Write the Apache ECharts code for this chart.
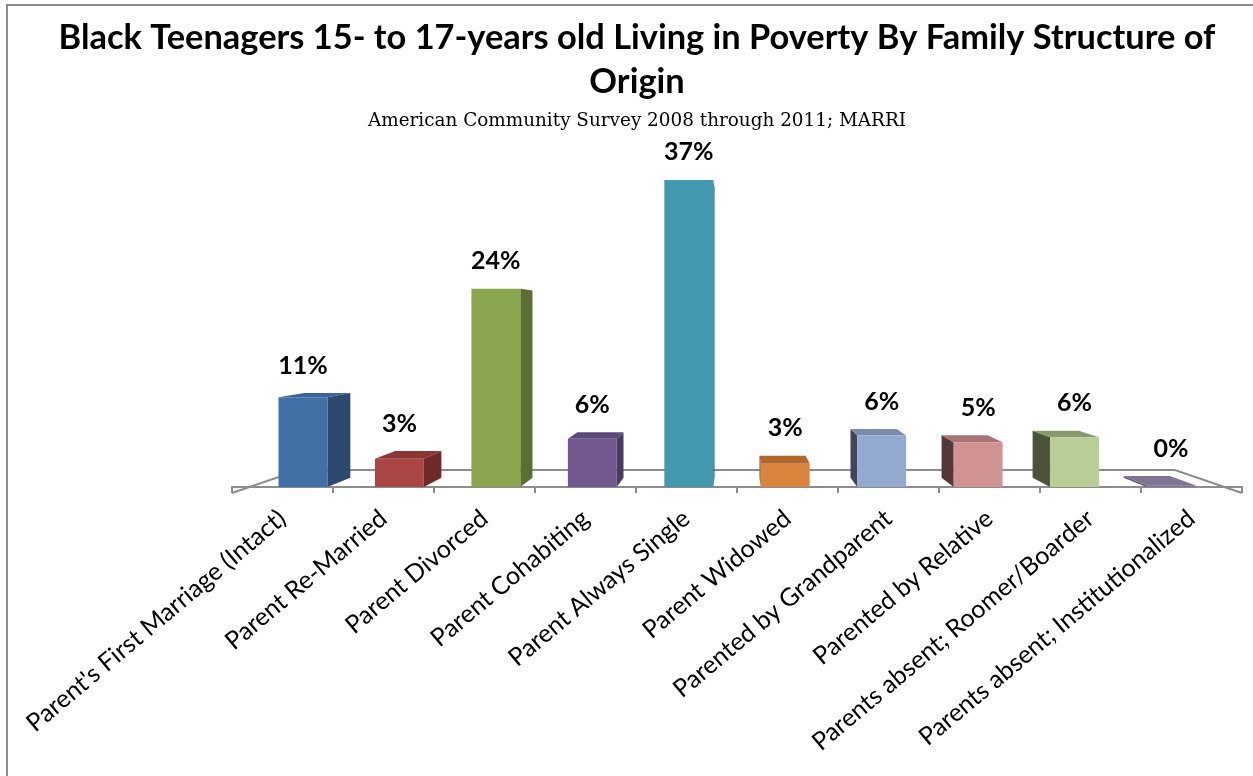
<!DOCTYPE html>
<html>
<head>
<meta charset="utf-8">
<script src="https://cdn.jsdelivr.net/npm/echarts@6/dist/echarts.min.js"></script>
<style>
html,body{margin:0;padding:0;background:#fff;}
#chart{width:1253px;height:776px;}
</style>
</head>
<body>
<div id="chart"></div>
<script>
const categories = [
  "Parent's First Marriage (Intact)",
  "Parent Re-Married",
  "Parent Divorced",
  "Parent Cohabiting",
  "Parent Always Single",
  "Parent Widowed",
  "Parented by Grandparent",
  "Parented by Relative",
  "Parents absent; Roomer/Boarder",
  "Parents absent; Institutionalized"
];
const values = [10.8, 3.4, 23.9, 5.8, 37.0, 2.8, 6.2, 5.4, 6.0, 0.2];
const frontColors = ['#4270A6','#AA4643','#89A54E','#71588F','#4198AF','#DB843D','#93A9CF','#D19392','#B9CD96','#7E6F96'];
const sideColors  = ['#2C4A70','#6E2B2A','#5A6E31','#4A3A60','#2E6E80','#9A5A26','#3E4659','#55373A','#4B5339','#5E5474'];
const topColors   = ['#3B6399','#8B3634','#7A9444','#5E4A7A','#3A8AA0','#B2672C','#7B8BAC','#A87373','#8A9A6F','#807594'];

const chart = echarts.init(document.getElementById('chart'), null, {renderer: 'canvas'});

const BAR_DEPTH = 0.056;
const FLOOR_DEPTH = 0.133;
const X_SHRINK = 0.955;

function vanish(params, api) {
  const cs = params.coordSys;
  const y0 = api.coord([0, 0])[1];
  return [cs.x + cs.width / 2, y0 - cs.height * 0.503];
}
function back(p, v, k) {
  return [p[0] + k * (v[0] - p[0]), p[1] + k * (v[1] - p[1])];
}

function renderFloor(params, api) {
  const cs = params.coordSys;
  const v = vanish(params, api);
  const yf = api.coord([0, 0])[1] + 6;
  const fl = [cs.x, yf], fr = [cs.x + cs.width, yf];
  const bl = back(fl, v, FLOOR_DEPTH), br = back(fr, v, FLOOR_DEPTH);
  return {
    type: 'polyline',
    shape: {points: [fl, bl, br, fr]},
    style: {stroke: '#8C8C8C', lineWidth: 2, fill: null}
  };
}

function renderBar(params, api) {
  const i = api.value(0);
  const val = api.value(1);
  const v = vanish(params, api);
  const base = api.coord([i, 0]);
  const top = api.coord([i, val]);
  const band = api.size([1, 0])[0];
  const fx = v[0] + X_SHRINK * (base[0] - v[0]);
  const hw = band * 0.242;
  const y0 = base[1], yt = top[1];
  const L = fx - hw, R = fx + hw;
  const children = [];
  const sx = fx < v[0] ? R : L;
  const st = back([sx, yt], v, BAR_DEPTH), sb = back([sx, y0], v, BAR_DEPTH);
  children.push({type: 'polygon', shape: {points: [[sx, yt], st, sb, [sx, y0]]},
    style: {fill: sideColors[i]}});
  let labelY = yt;
  if (yt > v[1]) {
    const bl = back([L, yt], v, BAR_DEPTH), br = back([R, yt], v, BAR_DEPTH);
    children.push({type: 'polygon', shape: {points: [[L, yt], bl, br, [R, yt]]},
      style: {fill: topColors[i]}});
    labelY = Math.min(bl[1], yt);
  }
  if (y0 - yt > 0.5) {
    children.push({type: 'rect', shape: {x: L, y: yt, width: R - L, height: y0 - yt},
      style: {fill: frontColors[i]}});
  }
  children.push({type: 'text', x: fx, y: labelY - 15,
    style: {text: Math.round(val) + '%', fill: '#000', font: 'bold 25px Lato',
      align: 'center', verticalAlign: 'bottom'}});
  return {type: 'group', children: children};
}

chart.setOption({
  backgroundColor: '#fff',
  animation: false,
  title: [{
    text: 'Black Teenagers 15- to 17-years old Living in Poverty By Family Structure of\nOrigin',
    left: 632, top: 11, textAlign: 'center',
    textStyle: {fontFamily: 'Lato', fontWeight: 'bold', fontSize: 34.4, lineHeight: 44, color: '#000'}
  }, {
    text: 'American Community Survey 2008 through 2011; MARRI',
    left: 632, top: 107, textAlign: 'center',
    textStyle: {fontFamily: 'DejaVu Serif', fontWeight: 'normal', fontSize: 18.4, color: '#000'}
  }],
  graphic: [{
    type: 'rect', shape: {x: 7, y: 5, width: 1260, height: 790},
    style: {fill: null, stroke: '#8C8C8C', lineWidth: 2}, z: -10, silent: true
  }],
  grid: {left: 232, right: 11, top: 155, bottom: 289, containLabel: false},
  xAxis: {
    type: 'category', data: categories, offset: 6,
    axisLine: {lineStyle: {color: '#8C8C8C', width: 2}},
    axisTick: {show: true, length: 6, lineStyle: {color: '#8C8C8C', width: 2}},
    axisLabel: {interval: 0, rotate: 40, margin: 22, fontFamily: 'Lato', fontSize: 25, color: '#000'},
    splitLine: {show: false}
  },
  yAxis: {type: 'value', min: 0, max: 40, show: false},
  series: [{
    type: 'custom', name: 'floor', renderItem: renderFloor, data: [[0, 0]], z: 1, silent: true
  }, {
    type: 'custom', name: 'bars', renderItem: renderBar, z: 2,
    encode: {x: 0, y: 1},
    data: values.map((v, i) => [i, v])
  }]
});
</script>
</body>
</html>
